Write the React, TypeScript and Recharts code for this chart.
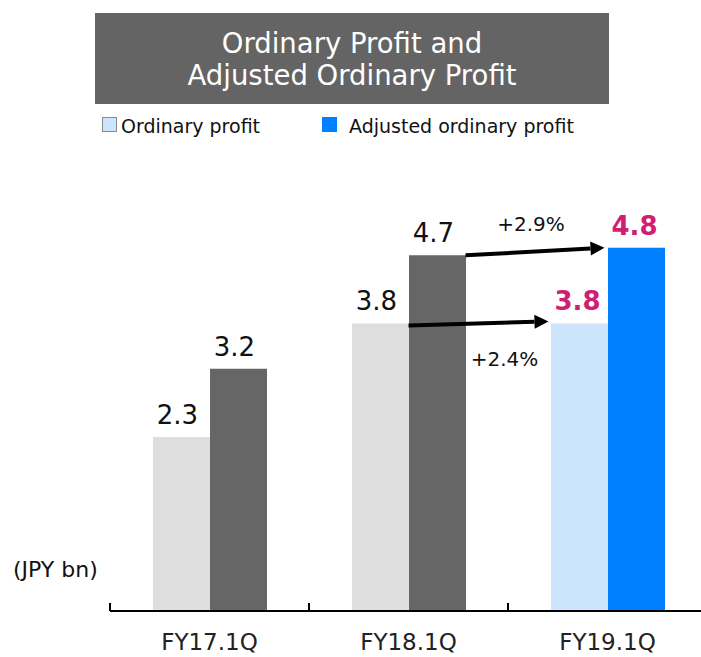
import React from 'react';
import { BarChart, Bar, XAxis, YAxis, Cell, LabelList, ReferenceLine } from 'recharts';

// values in JPY bn
const categories = ['FY17.1Q', 'FY18.1Q', 'FY19.1Q'];
const ordinaryProfit = [2.3, 3.8, 3.8];
const adjustedOrdinaryProfit = [3.2, 4.7, 4.8];
const ordinaryColors = ['#dedede', '#dedede', '#cce4fc'];
const adjustedColors = ['#666666', '#666666', '#0080ff'];
const growthLabels = ['+2.4%', '+2.9%'];

const data = categories.map((name, i) => ({
    name,
    ordinary: ordinaryProfit[i],
    adjusted: adjustedOrdinaryProfit[i],
}));

const FONT = '"DejaVu Sans", Verdana, sans-serif';
const PINK = '#cf1f72';
const BAR_SIZE = 57;

const ValueLabel = (props: any) => {
    const { x, y, width, value, index } = props;
    const highlight = index === categories.length - 1;
    return (
        <text
            x={x + width / 2 + (highlight ? -2 : -4)}
            y={y - 13}
            textAnchor="middle"
            fontFamily={FONT}
            fontSize={26}
            fontWeight={highlight ? 700 : 400}
            fill={highlight ? PINK : '#111'}
        >
            {Number(value).toFixed(1)}
        </text>
    );
};

const CategoryTick = (props: any) => {
    const { x, y, payload, width, visibleTicksCount } = props;
    const band = width / visibleTicksCount;
    const axisY = y - 8;
    return (
        <g>
            <line x1={x - band / 2} x2={x - band / 2} y1={axisY} y2={axisY - 8} stroke="#000" strokeWidth={2} />
            <text x={x} y={axisY + 39} textAnchor="middle" fontFamily={FONT} fontSize={23} fill="#222">
                {payload.value}
            </text>
        </g>
    );
};

// arrow between two bar tops, with growth text
const makeArrow = (trimStart: number, trimEnd: number, label: string, dx: number, dy: number, tilt = 0) => (props: any) => {
    const { x1, x2 } = props;
    const y1 = props.y1 + tilt;
    const y2 = props.y2 - tilt;
    const sx = x1 + trimStart;
    const ex = x2 - trimEnd;
    const head = 14;
    const half = 7;
    const ang = Math.atan2(y2 - y1, ex - sx);
    const bx = ex - head * Math.cos(ang);
    const by = y2 - head * Math.sin(ang);
    const nx = -Math.sin(ang) * half;
    const ny = Math.cos(ang) * half;
    return (
        <g>
            <line x1={sx} y1={y1} x2={bx} y2={by} stroke="#000" strokeWidth={4} />
            <polygon points={`${ex},${y2} ${bx + nx},${by + ny} ${bx - nx},${by - ny}`} fill="#000" />
            <text
                x={(sx + ex) / 2 + dx}
                y={(y1 + y2) / 2 + dy}
                textAnchor="middle"
                fontFamily={FONT}
                fontSize={20}
                fill="#111"
            >
                {label}
            </text>
        </g>
    );
};

export default function App() {
    return (
        <div style={{ position: 'absolute', left: 0, top: 0, width: 701, height: 657, overflow: 'hidden', background: '#fff', fontFamily: FONT }}>
            <BarChart
                width={710}
                height={657}
                data={data}
                margin={{ top: 157, right: 3, left: 110, bottom: 16 }}
                barGap={0}
                barSize={BAR_SIZE}
            >
                <XAxis
                    dataKey="name"
                    axisLine={{ stroke: '#000', strokeWidth: 2 }}
                    tickLine={false}
                    tickSize={6}
                    tickMargin={2}
                    height={30}
                    tick={<CategoryTick />}
                    interval={0}
                />
                <YAxis hide domain={[0, 6]} />
                <Bar dataKey="ordinary" isAnimationActive={false}>
                    {data.map((_, i) => (
                        <Cell key={i} fill={ordinaryColors[i]} />
                    ))}
                    <LabelList dataKey="ordinary" content={<ValueLabel />} />
                </Bar>
                <Bar dataKey="adjusted" isAnimationActive={false}>
                    {data.map((_, i) => (
                        <Cell key={i} fill={adjustedColors[i]} />
                    ))}
                    <LabelList dataKey="adjusted" content={<ValueLabel />} />
                </Bar>
                <ReferenceLine
                    segment={[
                        { x: categories[1], y: ordinaryProfit[1] },
                        { x: categories[2], y: ordinaryProfit[2] },
                    ]}
                    shape={makeArrow(0, BAR_SIZE + 2, growthLabels[0], 26, 43, 2)}
                />
                <ReferenceLine
                    segment={[
                        { x: categories[1], y: adjustedOrdinaryProfit[1] },
                        { x: categories[2], y: adjustedOrdinaryProfit[2] },
                    ]}
                    shape={makeArrow(BAR_SIZE, 3, growthLabels[1], -4, -21)}
                />
            </BarChart>

            <div
                style={{
                    position: 'absolute', left: 95, top: 13, width: 514, height: 91,
                    boxSizing: 'border-box', paddingTop: 14, background: '#646464',
                    color: '#fff', fontSize: 27.5, lineHeight: '32px', textAlign: 'center',
                }}
            >
                Ordinary Profit and
                <br />
                Adjusted Ordinary Profit
            </div>

            <div style={{ position: 'absolute', left: 102, top: 117, width: 15, height: 15, boxSizing: 'border-box', background: '#cce4fc', border: '1px solid #8a8a8a' }} />
            <div style={{ position: 'absolute', left: 121, top: 117, fontSize: 19, lineHeight: '19px', color: '#111', whiteSpace: 'nowrap' }}>
                Ordinary profit
            </div>
            <div style={{ position: 'absolute', left: 322, top: 117, width: 15, height: 15, background: '#0080ff' }} />
            <div style={{ position: 'absolute', left: 349, top: 117, fontSize: 19, lineHeight: '19px', color: '#111', whiteSpace: 'nowrap' }}>
                Adjusted ordinary profit
            </div>

            <div style={{ position: 'absolute', left: 13, top: 559, fontSize: 22, lineHeight: '22px', color: '#111', whiteSpace: 'nowrap' }}>
                (JPY bn)
            </div>
        </div>
    );
}
